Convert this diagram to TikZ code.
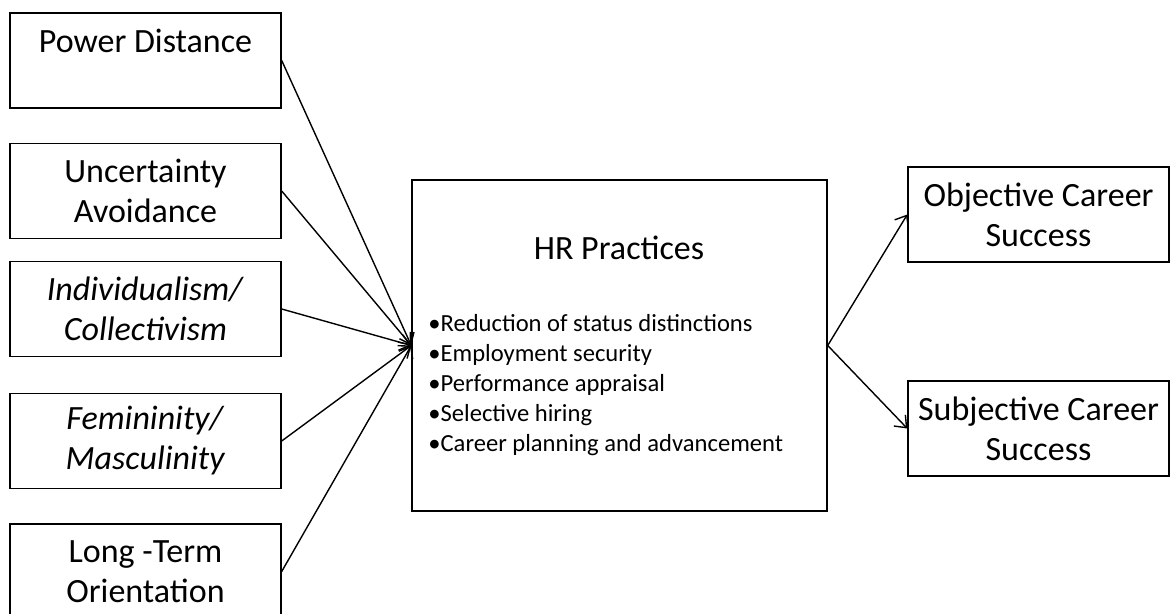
\documentclass[tikz,border=0pt]{standalone}
\usepackage{fontspec}
\setmainfont{Carlito}
\usetikzlibrary{arrows.meta,
                positioning}

\begin{document}
\begin{tikzpicture}[x=0.5pt,y=-0.5pt,line width=0.7pt,
  >={Straight Barb[length=5pt,width=8pt]},
  factor/.style={draw,align=center,minimum width=135.5pt,minimum height=47.5pt,
                 font=\fontsize{17}{20}\selectfont},
  outcome/.style={draw,align=center,minimum width=130.5pt,minimum height=47.5pt,
                 font=\fontsize{17}{20}\selectfont}]
\useasboundingbox (0,0) rectangle (1170,614);

% cultural dimensions
\node[factor] (pd) at (145.5,60.5) {Power Distance\\~};
\node[factor] (ua) at (145.5,191) {Uncertainty\\Avoidance};
\node[factor] (ic) at (145.5,309) {\textit{Individualism/}\\\textit{Collectivism}};
\node[factor] (fm) at (145.5,441) {\textit{Femininity/}\\\textit{Masculinity}};
\node[factor] (lt) at (145.5,571.5) {Long -Term\\Orientation};

% HR practices
\node[draw,minimum width=207.5pt,minimum height=165.5pt] (hr) at (619.5,345.5) {};
\node[font=\fontsize{17}{20}\selectfont] (hrtitle) at (619,248) {HR Practices};
\node[anchor=west,align=left,font=\fontsize{12.3}{15}\selectfont] (hrlist) at (421,385)
  {•Reduction of status distinctions\\
   •Employment security\\
   •Performance appraisal\\
   •Selective hiring\\
   •Career planning and advancement};

% outcomes
\node[outcome] (obj) at (1038.5,214.5) {Objective Career\\Success};
\node[outcome] (subj) at (1038.5,428.5) {Subjective Career\\Success};

\foreach \n in {pd,ua,ic,fm,lt}
  \draw[->] (\n.east) -- (hr.west);
\foreach \n in {obj,subj}
  \draw[->] (hr.east) -- (\n.west);
\end{tikzpicture}
\end{document}
